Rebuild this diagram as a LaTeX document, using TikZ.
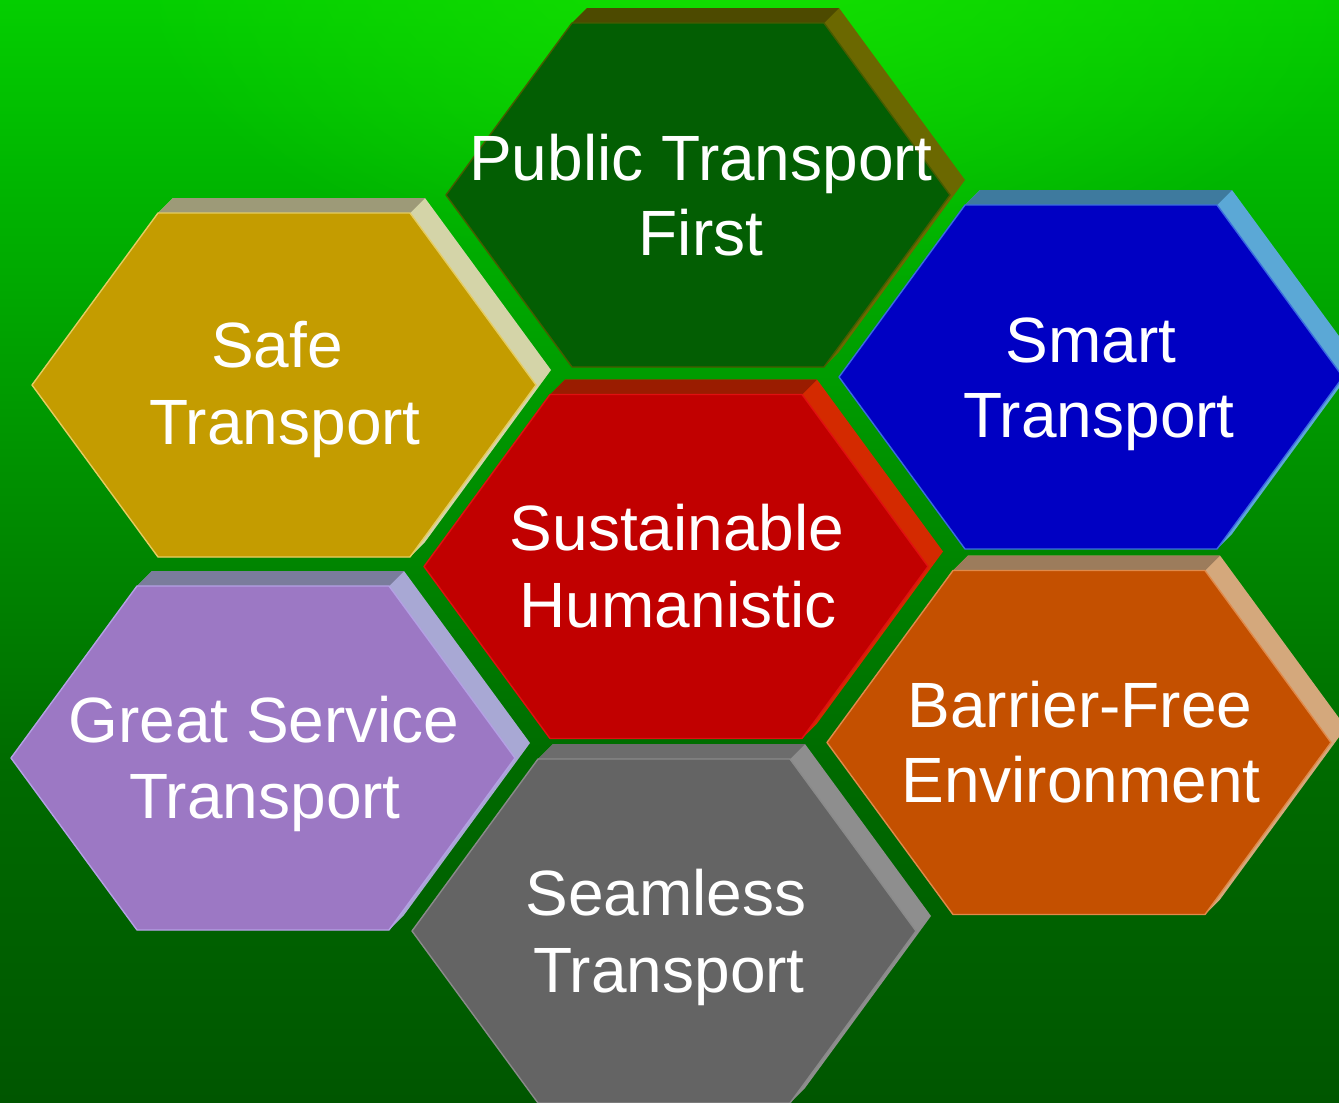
\documentclass[tikz,border=0pt]{standalone}
\usepackage{fontspec}
\setmainfont{Liberation Sans}
\usetikzlibrary{fadings}
\tikzfading[name=softglow, inner color=transparent!0, outer color=transparent!100]
\definecolor{bgA}{RGB}{4,206,0}
\definecolor{bgB}{RGB}{0,182,0}
\definecolor{bgC}{RGB}{0,140,0}
\definecolor{bgD}{RGB}{0,106,0}
\definecolor{bgE}{RGB}{0,86,0}
\definecolor{bgHi}{RGB}{24,228,0}
% hexagon colours: front / top / side / border
\definecolor{pubF}{RGB}{3,94,3}\definecolor{pubT}{RGB}{77,74,0}\definecolor{pubS}{RGB}{107,104,0}\definecolor{pubB}{RGB}{70,92,0}
\definecolor{smaF}{RGB}{0,0,195}\definecolor{smaT}{RGB}{62,122,158}\definecolor{smaS}{RGB}{91,168,214}\definecolor{smaB}{RGB}{58,106,224}
\definecolor{safF}{RGB}{196,156,0}\definecolor{safT}{RGB}{157,154,120}\definecolor{safS}{RGB}{212,212,168}\definecolor{safB}{RGB}{229,204,96}
\definecolor{susF}{RGB}{193,0,0}\definecolor{susT}{RGB}{154,28,0}\definecolor{susS}{RGB}{212,42,0}\definecolor{susB}{RGB}{224,16,16}
\definecolor{greF}{RGB}{156,120,196}\definecolor{greT}{RGB}{122,124,156}\definecolor{greS}{RGB}{168,168,212}\definecolor{greB}{RGB}{180,160,228}
\definecolor{seaF}{RGB}{100,100,100}\definecolor{seaT}{RGB}{108,108,108}\definecolor{seaS}{RGB}{142,142,142}\definecolor{seaB}{RGB}{138,138,138}
\definecolor{barF}{RGB}{196,80,0}\definecolor{barT}{RGB}{156,124,92}\definecolor{barS}{RGB}{212,168,124}\definecolor{barB}{RGB}{224,138,74}
\pgfdeclareverticalshading{bgshade}{100bp}{color(0bp)=(bgE); color(25bp)=(bgE); color(40bp)=(bgD); color(52bp)=(bgC); color(67bp)=(bgB); color(75bp)=(bgA); color(100bp)=(bgA)}
\newcommand{\hexbox}[8]{%
  \pgfmathsetmacro\hxL{#2-#4}\pgfmathsetmacro\hxl{#2-#4/2}%
  \pgfmathsetmacro\hxr{#2+#4/2}\pgfmathsetmacro\hxR{#2+#4}%
  \pgfmathsetmacro\hyT{#3-172}\pgfmathsetmacro\hyB{#3+172}%
  \coordinate (#1) at (#2,#3);
  \fill[#7] (\hxL,#3) -- (\hxl,\hyT) -- (\hxl+15,\hyT-15) -- (\hxr+15,\hyT-15)
     -- (\hxR+15,#3-15) -- (\hxr+15,\hyB-15) -- (\hxr,\hyB) -- (\hxl,\hyB) -- cycle;
  \fill[#6] (\hxl,\hyT) -- (\hxl+15,\hyT-15) -- (\hxr+15,\hyT-15) -- (\hxr,\hyT) -- cycle;
  \filldraw[fill=#5, draw=#8, line width=1.4pt, line join=round]
     (\hxL,#3) -- (\hxl,\hyT) -- (\hxr,\hyT) -- (\hxR,#3) -- (\hxr,\hyB) -- (\hxl,\hyB) -- cycle;
}
\begin{document}
\begin{tikzpicture}[x=1pt,y=-1pt,
  lbl/.style={anchor=base, inner sep=0pt, text=white, font=\fontsize{64}{76}\selectfont}]
\useasboundingbox (0,0) rectangle (1339,1103);
\clip (0,0) rectangle (1339,1103);
\shade[shading=bgshade] (0,0) rectangle (1339,1103);
\fill[bgHi, path fading=softglow, opacity=0.8] (760,-40) ellipse (640 and 330);
% hexagons
\hexbox{pub}{698}{195}{252}{pubF}{pubT}{pubS}{pubB}
\hexbox{saf}{284}{385}{252}{safF}{safT}{safS}{safB}
\hexbox{sma}{1091}{377}{252}{smaF}{smaT}{smaS}{smaB}
\hexbox{sus}{676}{566.5}{252}{susF}{susT}{susS}{susB}
\hexbox{gre}{263}{758}{252}{greF}{greT}{greS}{greB}
\hexbox{bar}{1079}{742.5}{252}{barF}{barT}{barS}{barB}
\hexbox{sea}{664}{931}{252}{seaF}{seaT}{seaS}{seaB}
% labels
\node[lbl] (pub1) at (701,180) {Public Transport};
\node[lbl] (pub2) at (701,255) {First};
\node[lbl] (saf1) at (277,367) {Safe};
\node[lbl] (saf2) at (285,444) {Transport};
\node[lbl] (sma1) at (1091,362) {Smart};
\node[lbl] (sma2) at (1099,437) {Transport};
\node[lbl] (sus1) at (677,550) {Sustainable};
\node[lbl] (sus2) at (678,627) {Humanistic};
\node[lbl] (gre1) at (264,742) {Great Service};
\node[lbl] (gre2) at (265,818) {Transport};
\node[lbl] (bar1) at (1080,727) {Barrier-Free};
\node[lbl] (bar2) at (1081,802) {Environment};
\node[lbl] (sea1) at (666,915) {Seamless};
\node[lbl] (sea2) at (669,992) {Transport};
\end{tikzpicture}
\end{document}
